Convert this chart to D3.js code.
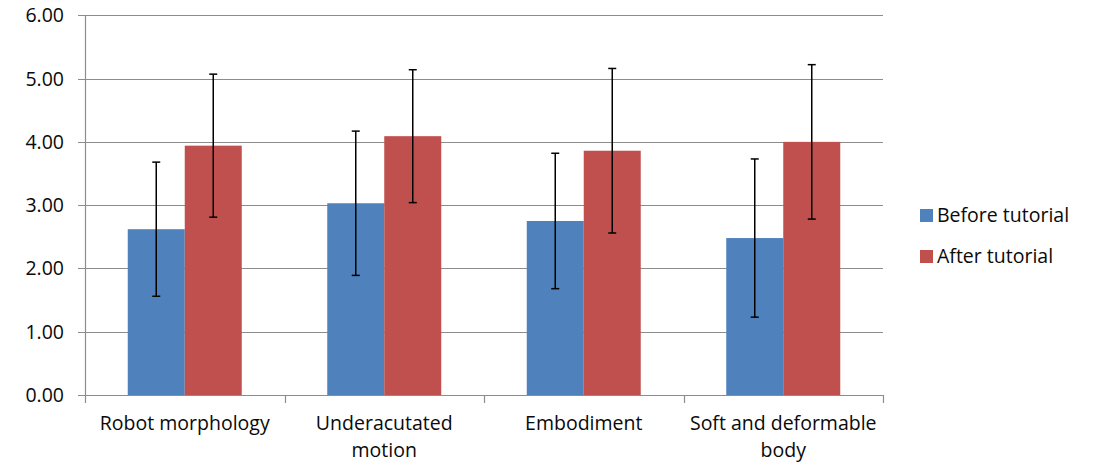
<!DOCTYPE html>
<html lang="en">
<head>
<meta charset="UTF-8" />
<script src="https://d3js.org/d3.v7.min.js"></script>
<title>Tutorial ratings</title>
<style>
  body { margin: 0; background: #fff; }
  text { font-family: "Open Sans", "Liberation Sans", sans-serif; fill: #0a0a0a; }
</style>
</head>
<body>
<svg width="1094" height="465"></svg>
<script>
// data
const categories = ["Robot morphology", "Underacutated motion", "Embodiment", "Soft and deformable body"];
const catLines = [["Robot morphology"], ["Underacutated", "motion"], ["Embodiment"], ["Soft and deformable", "body"]];
const series = ["Before tutorial", "After tutorial"];
const beforeMean = [2.62, 3.03, 2.75, 2.48];
const beforeErr = [1.06, 1.14, 1.07, 1.25];
const afterMean = [3.94, 4.09, 3.86, 4.00];
const afterErr = [1.13, 1.05, 1.30, 1.22];
const yTicks = [0, 1, 2, 3, 4, 5, 6];
const colors = ["#4F81BD", "#C0504D"];

const means = [beforeMean, afterMean];
const errs = [beforeErr, afterErr];

const svg = d3.select("svg");
const mLeft = 85, mRight = 883, mTop = 15.3, mBottom = 395;
const fs = 19.5;

const x = d3.scaleBand().domain(categories).range([mLeft, mRight]);
const xs = d3.scaleBand().domain(series).range([0, x.bandwidth()]).paddingInner(0).paddingOuter(0.75);
const y = d3.scaleLinear().domain([0, 6]).range([mBottom, mTop]);

// gridlines
svg.append("g")
  .selectAll("line").data(yTicks).join("line")
  .attr("x1", mLeft - 7).attr("x2", mRight)
  .attr("y1", d => Math.round(y(d)) + 0.5).attr("y2", d => Math.round(y(d)) + 0.5)
  .attr("stroke", "#8c8c8c").attr("stroke-width", 1.2);

// y labels
svg.append("g")
  .selectAll("text").data(yTicks).join("text")
  .attr("x", mLeft - 21).attr("y", d => y(d) + 7)
  .attr("text-anchor", "end").attr("font-size", fs)
  .text(d => d.toFixed(2));

// y axis line
svg.append("line")
  .attr("x1", mLeft + 0.5).attr("x2", mLeft + 0.5)
  .attr("y1", mTop).attr("y2", mBottom + 8)
  .attr("stroke", "#8c8c8c").attr("stroke-width", 1.2);

// x category ticks
const bounds = categories.map(c => x(c)).concat([mRight]);
svg.append("g")
  .selectAll("line").data(bounds.slice(1)).join("line")
  .attr("x1", d => Math.round(d) + 0.5).attr("x2", d => Math.round(d) + 0.5)
  .attr("y1", mBottom).attr("y2", mBottom + 8)
  .attr("stroke", "#8c8c8c").attr("stroke-width", 1.2);

// bars
const groups = svg.append("g")
  .selectAll("g").data(categories).join("g")
  .attr("transform", c => `translate(${x(c)},0)`);

series.forEach((s, si) => {
  groups.append("rect")
    .attr("x", xs(s))
    .attr("width", xs.bandwidth())
    .attr("y", (c, i) => y(means[si][i]))
    .attr("height", (c, i) => mBottom - y(means[si][i]))
    .attr("fill", colors[si]);
});

// error bars
series.forEach((s, si) => {
  const cx = xs(s) + xs.bandwidth() / 2;
  const eb = groups.append("g").attr("stroke", "#000").attr("stroke-width", 1.5);
  eb.append("line")
    .attr("x1", cx).attr("x2", cx)
    .attr("y1", (c, i) => y(means[si][i] + errs[si][i]))
    .attr("y2", (c, i) => y(means[si][i] - errs[si][i]));
  [1, -1].forEach(sign => {
    eb.append("line")
      .attr("x1", cx - 4).attr("x2", cx + 4)
      .attr("y1", (c, i) => y(means[si][i] + sign * errs[si][i]))
      .attr("y2", (c, i) => y(means[si][i] + sign * errs[si][i]));
  });
});

// category labels
groups.append("text")
  .attr("text-anchor", "middle")
  .attr("font-size", fs)
  .each(function (c, i) {
    const t = d3.select(this);
    catLines[i].forEach((ln, li) => {
      t.append("tspan")
        .attr("x", x.bandwidth() / 2)
        .attr("y", 430 + li * 27)
        .text(ln);
    });
  });

// legend
const legend = svg.append("g")
  .selectAll("g").data(series).join("g")
  .attr("transform", (d, i) => `translate(920,${209 + i * 41})`);
legend.append("rect")
  .attr("width", 13).attr("height", 13)
  .attr("fill", (d, i) => colors[i]);
legend.append("text")
  .attr("x", 17).attr("y", 13)
  .attr("font-size", fs)
  .text(d => d);
</script>
</body>
</html>
